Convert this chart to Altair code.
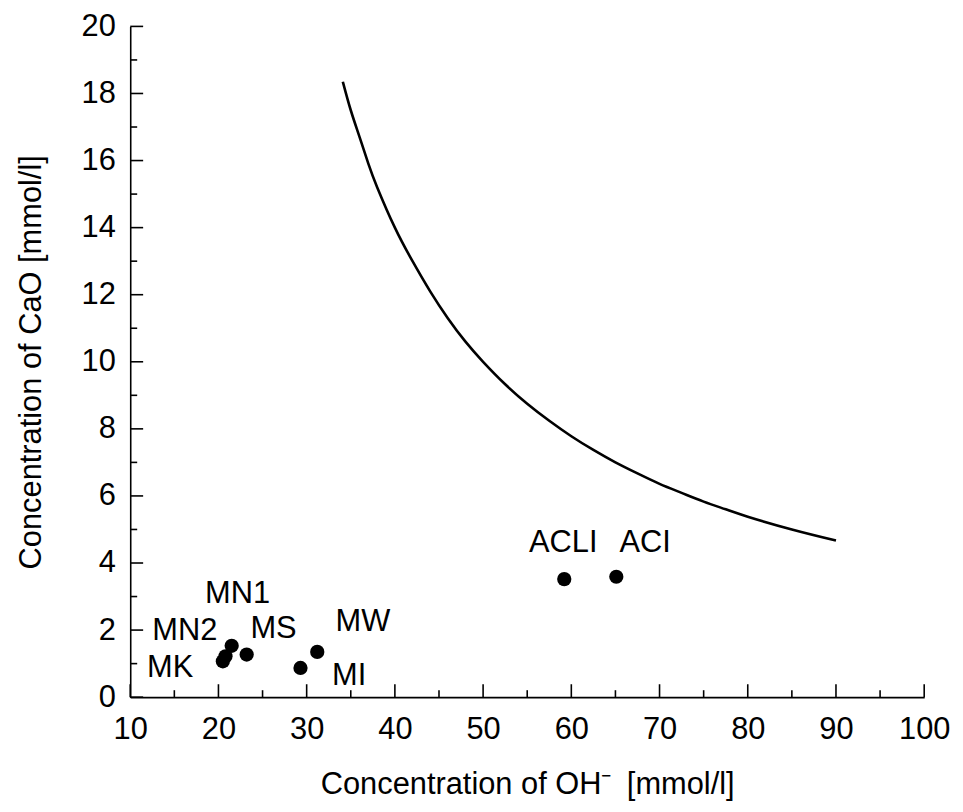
import altair as alt
import pandas as pd

# ---- data ----
sample_names = ["MK", "MN2", "MN1", "MS", "MI", "MW", "ACLI", "ACI"]
oh_values = [20.5, 20.8, 21.5, 23.2, 29.3, 31.2, 59.2, 65.1]
cao_values = [1.07, 1.22, 1.53, 1.27, 0.87, 1.35, 3.52, 3.59]

curve_oh = [34.1, 35, 36, 37, 38, 40, 42, 44, 46, 48, 50, 52.5, 55, 57.5, 60, 62.5, 65,
            67.5, 70, 72.5, 75, 77.5, 80, 85, 90]
curve_cao = [18.35, 17.5, 16.7, 15.9, 15.2, 14.0, 13.0, 12.1, 11.3, 10.6, 10.0, 9.33, 8.75,
             8.24, 7.78, 7.37, 7.0, 6.67, 6.36, 6.09, 5.83, 5.6, 5.38, 5.0, 4.67]

x_ticks_major = [10, 20, 30, 40, 50, 60, 70, 80, 90, 100]
x_ticks_minor = [15, 25, 35, 45, 55, 65, 75, 85, 95]
y_ticks_major = [0, 2, 4, 6, 8, 10, 12, 14, 16, 18, 20]
y_ticks_minor = [1, 3, 5, 7, 9, 11, 13, 15, 17, 19]

x_title = "Concentration of OH\u207b\u2002[mmol/l]"
y_title = "Concentration of CaO [mmol/l]"

# ---- layout / style ----
W, H = 799, 675
FONT = "Liberation Sans"
FS = 31
MAJ, MIN = 13, 7

pts = pd.DataFrame({"name": sample_names, "oh": oh_values, "cao": cao_values})
curve = pd.DataFrame({"oh": curve_oh, "cao": curve_cao})

xscale = alt.Scale(domain=[10, 100], nice=False, zero=False)
yscale = alt.Scale(domain=[0, 20], nice=False, zero=False)
xaxis = alt.Axis(values=x_ticks_major, title=x_title, grid=False, ticks=False,
                 labelPadding=18, titlePadding=25, labelFontSize=FS, titleFontSize=FS,
                 labelFont=FONT, titleFont=FONT, titleFontWeight="normal",
                 labelColor="black", titleColor="black", domainColor="black",
                 domainWidth=1.6, labelFlush=False)
yaxis = alt.Axis(values=y_ticks_major, title=y_title, grid=False, ticks=False,
                 labelPadding=15, titlePadding=34, labelFontSize=FS, titleFontSize=FS,
                 labelFont=FONT, titleFont=FONT, titleFontWeight="normal",
                 labelColor="black", titleColor="black", domainColor="black",
                 domainWidth=1.6, labelFlush=False)

def X(field):
    return alt.X(field, type="quantitative", scale=xscale, axis=xaxis)

def Y(field):
    return alt.Y(field, type="quantitative", scale=yscale, axis=yaxis)

line = alt.Chart(curve).mark_line(color="black", strokeWidth=2.6, interpolate="natural").encode(
    x=X("oh"), y=Y("cao"))

dots = alt.Chart(pts).mark_circle(color="black", opacity=1, size=205).encode(
    x=X("oh"), y=Y("cao"))

# label placement offsets (pixels) relative to each point
label_offsets = {
    "MK": (-53, 7), "MN2": (-41, -25), "MN1": (6, -52), "MS": (27, -26),
    "MI": (49, 8), "MW": (46, -30), "ACLI": (-1, -36), "ACI": (29, -34),
}
label_layers = []
for nm, (dx, dy) in label_offsets.items():
    label_layers.append(
        alt.Chart(pts).transform_filter(alt.datum.name == nm).mark_text(
            font=FONT, fontSize=FS, color="black", dx=dx, dy=dy,
            align="center", baseline="middle").encode(
            x=X("oh"), y=Y("cao"), text="name:N"))

xt_maj = alt.Chart(pd.DataFrame({"t": x_ticks_major})).mark_rule(color="black", strokeWidth=1.6).encode(
    x=X("t"), y=alt.value(H), y2=alt.value(H - MAJ))
xt_min = alt.Chart(pd.DataFrame({"t": x_ticks_minor})).mark_rule(color="black", strokeWidth=1.6).encode(
    x=X("t"), y=alt.value(H), y2=alt.value(H - MIN))
yt_maj = alt.Chart(pd.DataFrame({"t": y_ticks_major})).mark_rule(color="black", strokeWidth=1.6).encode(
    y=Y("t"), x=alt.value(0), x2=alt.value(MAJ))
yt_min = alt.Chart(pd.DataFrame({"t": y_ticks_minor})).mark_rule(color="black", strokeWidth=1.6).encode(
    y=Y("t"), x=alt.value(0), x2=alt.value(MIN))

chart = alt.layer(line, xt_maj, xt_min, yt_maj, yt_min, dots, *label_layers).properties(
    width=W, height=H,
    padding={"left": 7, "top": 0, "right": 5, "bottom": 2},
    background="white",
).configure_view(stroke=None)

chart.save("out.html", embed_options={"renderer": "svg", "actions": False})
